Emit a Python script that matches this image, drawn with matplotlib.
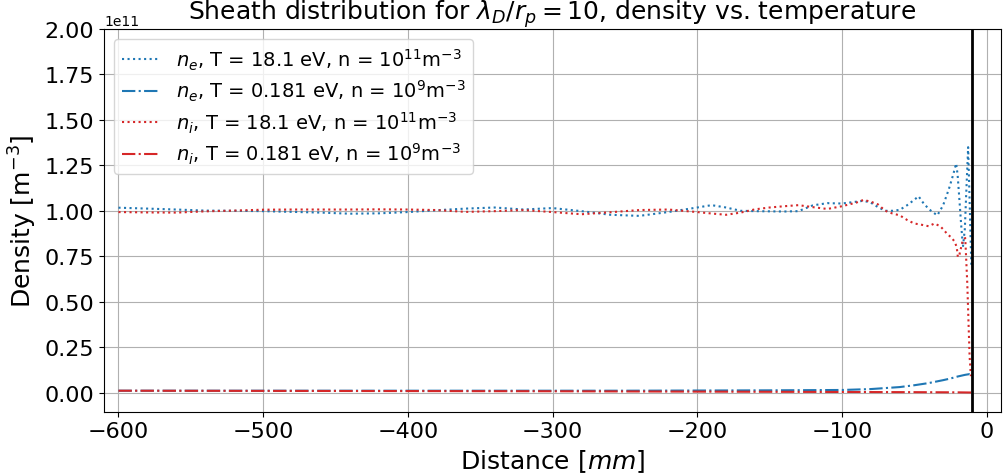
import numpy as np
import matplotlib
matplotlib.use("Agg")
import matplotlib.pyplot as plt

# distance [mm]
x_hot_e = [-600, -580, -560, -540, -520, -500, -480, -460, -440, -420, -400,
           -380, -360, -340, -320, -300, -280, -260, -240, -220, -200,
           -190, -180, -170, -160, -150, -140, -130, -120, -110, -100,
           -90, -85, -80, -75, -70, -65, -60, -55, -50, -47, -43, -38, -34,
           -30, -26, -23, -21, -20, -19, -17.5, -16.3, -15, -14, -12.7, -11.5, -10.5]
ne_hot = [1.017, 1.012, 1.007, 1.001, 1.0, 0.998, 0.994, 0.99, 0.984, 0.986, 0.993,
          1.003, 1.012, 1.018, 1.007, 1.015, 0.998, 0.978, 0.972, 0.993, 1.018,
          1.031, 1.018, 1.0, 0.998, 0.997, 0.996, 0.998, 1.03, 1.042, 1.04,
          1.05, 1.055, 1.045, 1.02, 1.0, 1.0, 1.005, 1.03, 1.06, 1.08, 1.035, 0.997, 0.975,
          1.03, 1.12, 1.2, 1.26, 1.2, 1.09, 0.92, 0.8, 0.9, 1.1, 1.35, 1.0, 0.7]

x_hot_i = [-600, -580, -560, -540, -520, -500, -480, -460, -440, -420, -400,
           -380, -360, -340, -320, -300, -280, -260, -240, -220, -200,
           -190, -180, -170, -160, -150, -140, -130, -120, -110, -100,
           -90, -85, -80, -75, -70, -65, -60, -55, -50, -46, -43, -40, -36,
           -32, -29, -27, -24.5, -22, -20.6, -19.8, -18.7, -17.5, -16.3, -14.7,
           -13.3, -12.5, -11.7, -10.8]
ni_hot = [0.993, 0.991, 0.99, 0.997, 1.001, 1.006, 1.007, 1.007, 1.007, 1.008, 1.007,
          1.004, 0.994, 0.998, 1.004, 0.993, 0.981, 0.992, 1.004, 1.007, 0.993,
          0.985, 0.978, 0.99, 1.008, 1.018, 1.025, 1.031, 1.02, 1.01, 1.025,
          1.045, 1.06, 1.05, 1.035, 1.0, 0.985, 0.975, 0.95, 0.93, 0.925, 0.92, 0.915, 0.93,
          0.915, 0.89, 0.87, 0.855, 0.83, 0.8, 0.745, 0.76, 0.8, 0.84, 0.85,
          0.6, 0.4, 0.2, 0.09]

x_cold_e = [-600, -500, -400, -300, -250, -200, -150, -100, -80, -60, -50, -40,
            -30, -25, -20, -15, -12, -10.5]
ne_cold = [0.010, 0.010, 0.010, 0.010, 0.010, 0.011, 0.012, 0.014, 0.019, 0.030, 0.040, 0.052,
           0.068, 0.077, 0.088, 0.097, 0.101, 0.095]

x_cold_i = [-600, -500, -400, -300, -200, -150, -100, -50, -20, -10.5]
ni_cold = [0.010, 0.009, 0.008, 0.007, 0.005, 0.004, 0.003, 0.002, 0.001, 0.0]

probe_edge = -10

scale = 1e11

fig = plt.figure(figsize=(10.04, 4.77), dpi=100)
ax = fig.add_axes([0.1036, 0.135, 0.8934, 0.802])

ax.plot(x_hot_e, np.array(ne_hot) * scale, ':', color='tab:blue', lw=1.5,
        label=r'$n_e$, T = 18.1 eV, n = $10^{11}$m$^{-3}$')
ax.plot(x_cold_e, np.array(ne_cold) * scale, '-.', color='tab:blue', lw=1.5,
        label=r'$n_e$, T = 0.181 eV, n = $10^{9}$m$^{-3}$')
ax.plot(x_hot_i, np.array(ni_hot) * scale, ':', color='tab:red', lw=1.5,
        label=r'$n_i$, T = 18.1 eV, n = $10^{11}$m$^{-3}$')
ax.plot(x_cold_i, np.array(ni_cold) * scale, '-.', color='tab:red', lw=1.5,
        label=r'$n_i$, T = 0.181 eV, n = $10^{9}$m$^{-3}$')
ax.axvline(probe_edge, color='k', lw=2)

ax.set_xlim(-610, 10)
ax.set_ylim(-0.105e11, 2e11)
ax.set_yticks(np.arange(0, 2.01, 0.25) * scale)
ax.grid(True)
ax.tick_params(labelsize=16)
ax.yaxis.get_offset_text().set_fontsize(10)

ax.set_title(r'Sheath distribution for $\lambda_D/r_p = 10$, density vs. temperature',
             fontsize=18, pad=2)
ax.set_xlabel(r'Distance [$mm$]', fontsize=18)
ax.set_ylabel(r'Density [m$^{-3}$]', fontsize=18)
ax.legend(loc='upper left', fontsize=14, labelspacing=0.32)

fig.savefig('out.png', dpi=100)
